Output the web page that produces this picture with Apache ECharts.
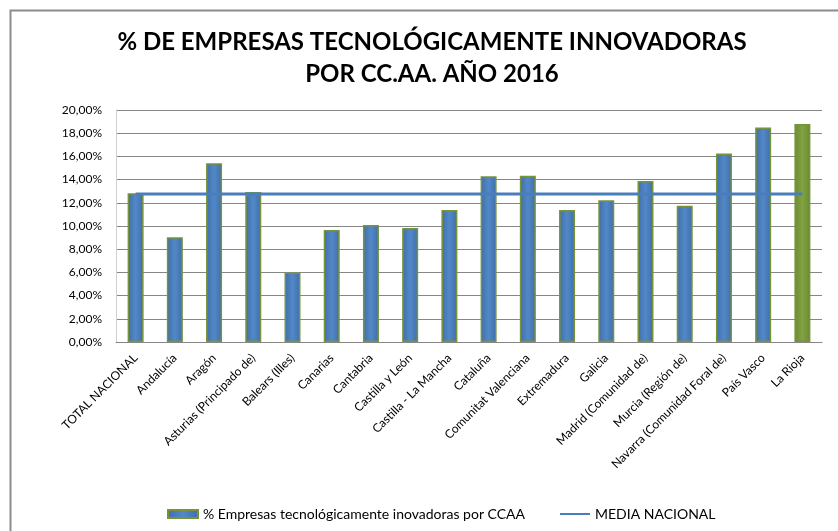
<!DOCTYPE html>
<html>
<head>
<meta charset="utf-8">
<script src="https://cdn.jsdelivr.net/npm/echarts@6/dist/echarts.min.js"></script>
<style>
  html, body { margin: 0; padding: 0; background: #fff; }
  #chart { width: 838px; height: 531px; }
</style>
</head>
<body>
<div id="chart"></div>
<script>
// datos
const regiones = [
  'TOTAL NACIONAL', 'Andalucía', 'Aragón', 'Asturias (Principado de)',
  'Balears (Illes)', 'Canarias', 'Cantabria', 'Castilla y León',
  'Castilla - La Mancha', 'Cataluña', 'Comunitat Valenciana', 'Extremadura',
  'Galicia', 'Madrid (Comunidad de)', 'Murcia (Región de)',
  'Navarra (Comunidad Foral de)', 'País Vasco', 'La Rioja'
]
const pctEmpresas = [
  12.82, 9.03, 15.40, 12.93, 6.00, 9.66, 10.09, 9.83, 11.38,
  14.28, 14.34, 11.38, 12.21, 13.88, 11.75, 16.26, 18.50, 18.80
]
const mediaNacional = 12.75
const yTicks = [0, 2, 4, 6, 8, 10, 12, 14, 16, 18, 20]

const fontFamily = 'Lato, "Open Sans", sans-serif'

const azul = new echarts.graphic.LinearGradient(0, 0, 1, 0, [
  { offset: 0, color: '#3d6ea8' },
  { offset: 0.5, color: '#5388c8' },
  { offset: 1, color: '#3d6ea8' }
])
const verde = new echarts.graphic.LinearGradient(0, 0, 1, 0, [
  { offset: 0, color: '#6a8a30' },
  { offset: 0.5, color: '#82a343' },
  { offset: 1, color: '#6a8a30' }
])

const barData = pctEmpresas.map((v, i) => ({
  value: v,
  itemStyle: { color: i === regiones.length - 1 ? verde : azul }
}))

const myChart = echarts.init(document.getElementById('chart'))
myChart.setOption({
  animation: false,
  graphic: [{
    type: 'rect',
    shape: { x: 10.5, y: 10.5, width: 1000, height: 1000 },
    style: { fill: 'none', stroke: '#8c8c8c', lineWidth: 2 },
    silent: true
  }],
  title: {
    text: '% DE EMPRESAS TECNOLÓGICAMENTE INNOVADORAS\nPOR CC.AA. AÑO 2016',
    left: 427,
    top: 21,
    textAlign: 'center',
    textStyle: {
      fontFamily: fontFamily,
      fontSize: 24,
      fontWeight: 'bold',
      color: '#000',
      lineHeight: 32
    }
  },
  legend: {
    bottom: 5,
    left: 162,
    itemGap: 34,
    itemWidth: 30,
    itemHeight: 8,
    textStyle: { fontFamily: fontFamily, fontSize: 14, color: '#000' },
    data: [
      { name: '% Empresas tecnológicamente inovadoras por CCAA', icon: 'rect' },
      { name: 'MEDIA NACIONAL', itemStyle: { opacity: 0 } }
    ]
  },
  grid: { left: 116, right: 16, top: 110, bottom: 189, containLabel: false },
  xAxis: {
    type: 'category',
    data: regiones,
    axisLine: { lineStyle: { color: '#868686' } },
    axisTick: { show: false },
    axisLabel: {
      interval: 0,
      rotate: 45,
      fontFamily: fontFamily,
      fontSize: 12,
      color: '#000',
      margin: 14
    }
  },
  yAxis: {
    type: 'value',
    min: 0,
    max: 20,
    interval: 2,
    axisLine: { show: true, lineStyle: { color: '#d0d0d0' } },
    axisTick: { show: false },
    splitLine: { lineStyle: { color: '#868686' } },
    axisLabel: {
      fontFamily: fontFamily,
      fontSize: 12,
      color: '#000',
      margin: 14,
      formatter: v => yTicks.includes(v) ? v.toFixed(2).replace('.', ',') + '%' : ''
    }
  },
  series: [
    {
      name: '% Empresas tecnológicamente inovadoras por CCAA',
      type: 'bar',
      barWidth: 16,
      data: barData,
      itemStyle: { borderColor: '#77933c', borderWidth: 1.5, color: azul }
    },
    {
      name: 'MEDIA NACIONAL',
      type: 'line',
      data: regiones.map(() => mediaNacional),
      showSymbol: false,
      symbol: 'none',
      lineStyle: { color: '#4a7ebb', width: 3 },
      itemStyle: { color: '#4a7ebb' }
    }
  ]
})
</script>
</body>
</html>
